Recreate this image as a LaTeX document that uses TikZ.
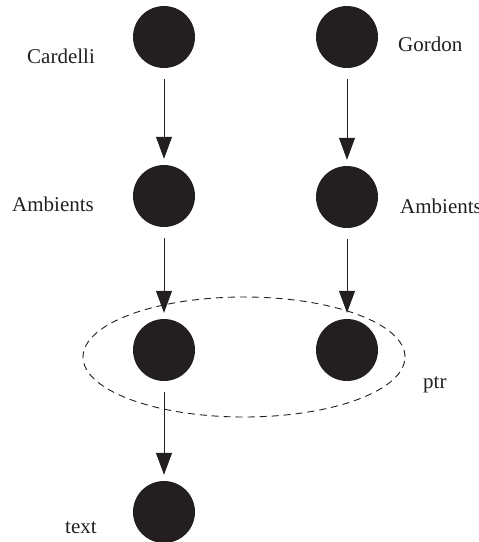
\documentclass[tikz,border=0pt]{standalone}
\usepackage{fontspec}
\setmainfont{Liberation Serif}
\usetikzlibrary{arrows.meta,shapes.geometric}
\definecolor{ink}{RGB}{35,31,32}
\begin{document}
\begin{tikzpicture}[x=1pt,y=-1pt,
  dot/.style={circle,fill=ink,draw=none,inner sep=0pt,minimum size=62pt},
  lbl/.style={anchor=base west,inner sep=0pt,text=ink,font=\fontsize{21}{25}\selectfont},
  link/.style={draw=ink,line width=1pt,-{Triangle[length=22pt,width=16pt]},
    shorten <=11pt,shorten >=6pt},
  group/.style={ellipse,draw=ink,line width=0.9pt,dash pattern=on 7pt off 5pt,
    minimum width=322pt,minimum height=120pt,inner sep=0pt}]
  \useasboundingbox (0,0) rectangle (479,542);

  % vertices
  \node[dot] (c1) at (164,37) {};
  \node[dot] (c2) at (347,37) {};
  \node[dot] (a1) at (164,196) {};
  \node[dot] (a2) at (347,197) {};
  \node[dot] (p1) at (164,350) {};
  \node[dot] (p2) at (347,350) {};
  \node[dot] (t)  at (164,512) {};

  % dashed grouping around the pointer pair
  \node[group] (g) at (244,357) {};

  % edges
  \draw[link] (c1) -- (a1);
  \draw[link] (c2) -- (a2);
  \draw[link] (a1) -- (p1);
  \draw[link] (a2) -- (p2);
  \draw[link] (p1) -- (t);

  % labels
  \node[lbl] (lc1) at (27,63)   {Cardelli};
  \node[lbl] (lc2) at (398,51)  {Gordon};
  \node[lbl] (la1) at (12,211)  {Ambients};
  \node[lbl] (la2) at (400,213) {Ambients};
  \node[lbl] (lg)  at (423,388) {ptr};
  \node[lbl] (lt)  at (65,533)  {text};
\end{tikzpicture}
\end{document}
